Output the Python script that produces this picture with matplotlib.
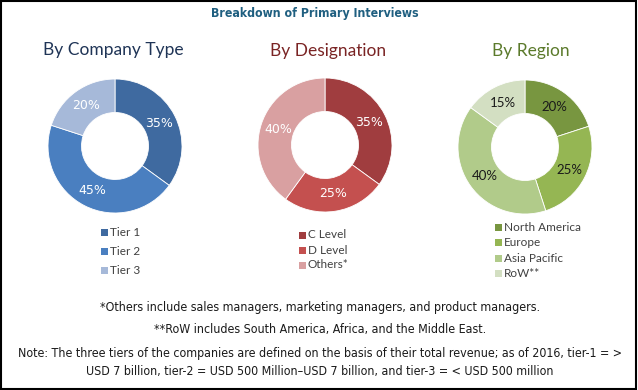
import matplotlib.pyplot as plt
from matplotlib.patches import Rectangle

# data
company_labels = ['Tier 1', 'Tier 2', 'Tier 3']
company_values = [35, 45, 20]
company_colors = ['#3f6aa0', '#4a7fc0', '#a6b9d9']

designation_labels = ['C Level', 'D Level', 'Others*']
designation_values = [35, 25, 40]
designation_colors = ['#a03d3f', '#c4504f', '#d9a0a1']

region_labels = ['North America', 'Europe', 'Asia Pacific', 'RoW**']
region_values = [20, 25, 40, 15]
region_colors = ['#789640', '#95b653', '#b1cb8a', '#d3dfc2']

W, H = 638, 390


def fx(x):
    return x / W


def fy(y):
    return 1 - y / H


def donut(cx, cy, r, values, colors, text_color, family, size):
    ax = fig.add_axes([fx(cx - r), fy(cy + r), 2 * r / W, 2 * r / H])
    ax.pie(values, colors=colors, startangle=90, counterclock=False,
           autopct='%d%%', pctdistance=0.74,
           wedgeprops=dict(width=0.5, edgecolor='white', linewidth=0.6),
           textprops=dict(color=text_color, fontsize=size, family=family))
    ax.set_xlim(-1, 1)
    ax.set_ylim(-1, 1)
    ax.set_aspect('equal')
    ax.axis('off')
    return ax


def legend(x, y0, step, labels, colors):
    for i, (lab, col) in enumerate(zip(labels, colors)):
        y = y0 + i * step
        fig.patches.append(Rectangle((fx(x), fy(y + 3.5)), 7 / W, 7 / H,
                                     transform=fig.transFigure,
                                     facecolor=col, edgecolor='none'))
        fig.text(fx(x + 9), fy(y), lab, family='Lato', fontsize=8.5,
                 color='#404040', va='center', ha='left')


fig = plt.figure(figsize=(W / 100, H / 100), dpi=100)

fig.text(fx(315), fy(13), 'Breakdown of Primary Interviews', family='DejaVu Sans',
         fontstretch='condensed', fontsize=8.8, fontweight='bold',
         color='#1f5f80', ha='center', va='center')

fig.text(fx(113), fy(50), 'By Company Type', family='Lato', fontsize=12.5,
         color='#1f3456', ha='center', va='center')
fig.text(fx(328), fy(51), 'By Designation', family='Lato', fontsize=12.5,
         color='#7a2424', ha='center', va='center')
fig.text(fx(531), fy(51), 'By Region', family='Lato', fontsize=12.5,
         color='#5b7a2b', ha='center', va='center')

donut(115, 146, 67, company_values, company_colors, 'white', 'DejaVu Sans', 9)
donut(325, 145, 67, designation_values, designation_colors, 'white', 'DejaVu Sans', 9)
donut(525, 147, 67, region_values, region_colors, '#1a1a1a', 'Lato', 9.5)

legend(101, 233, 18.5, company_labels, company_colors)
legend(299, 235, 15, designation_labels, designation_colors)
legend(495, 227, 15.5, region_labels, region_colors)

notes = [
    (307, '*Others include sales managers, marketing managers, and product managers.'),
    (330, '**RoW includes South America, Africa, and the Middle East.'),
    (353, 'Note: The three tiers of the companies are defined on the basis of their '
          'total revenue; as of 2016, tier-1 = >'),
    (372, 'USD 7 billion, tier-2 = USD 500 Million\u2013USD 7 billion, '
          'and tier-3 = < USD 500 million'),
]
for y, s in notes:
    fig.text(fx(320), fy(y), s, family='DejaVu Sans', fontstretch='condensed',
             fontsize=8.9, ha='center', va='center', color='#1a1a1a')

# outer frame
fig.patches.append(Rectangle((0.001, 0.002), 0.996, 0.995, transform=fig.transFigure,
                             fill=False, edgecolor='black', linewidth=1.5))

fig.savefig('out.png', dpi=100)
